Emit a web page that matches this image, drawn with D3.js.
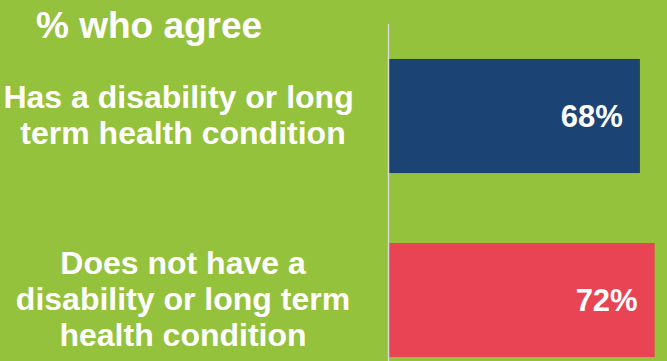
<!DOCTYPE html>
<html>
<head>
<meta charset="utf-8">
<script src="https://cdn.jsdelivr.net/npm/d3@7"></script>
<style>
  html, body { margin: 0; padding: 0; background: #95c23d; }
  svg { display: block; }
  text { font-family: "Liberation Sans", Arial, sans-serif; font-weight: bold; fill: #ffffff; white-space: pre; }
</style>
</head>
<body>
<svg id="chart" width="667" height="361"></svg>
<script>
// Survey result: share who agree, by disability status
const categories = [
  "Has a disability or long term health condition",
  "Does not have a disability or long term health condition"
];
const labelLines = [
  ["Has a disability or long ", "term health condition"],
  ["Does not have a", "disability or long term", "health condition"]
];
const values = [68, 72];
const colors = ["#1b4474", "#e94453"];
const title = "% who agree";

const svg = d3.select("#chart");
const W = 667, H = 361;

svg.append("rect").attr("width", W).attr("height", H).attr("fill", "#95c23d");

const x = d3.scaleLinear().domain([0, 100]).range([389, 758]);
const y = d3.scaleBand()
  .domain(categories)
  .range([24, 392])
  .paddingInner(0.38)
  .paddingOuter(0.19);

// bars
svg.selectAll("rect.bar")
  .data(categories)
  .join("rect")
  .attr("class", "bar")
  .attr("x", x(0))
  .attr("y", d => y(d))
  .attr("width", (d, i) => x(values[i]) - x(0))
  .attr("height", y.bandwidth())
  .attr("fill", (d, i) => colors[i]);

// value labels inside bar ends
svg.selectAll("text.val")
  .data(categories)
  .join("text")
  .attr("class", "val")
  .attr("x", (d, i) => x(values[i]) - 17)
  .attr("y", d => y(d) + y.bandwidth() / 2)
  .attr("dy", "0.36em")
  .attr("text-anchor", "end")
  .style("font-size", "31px")
  .text((d, i) => values[i] + "%");

// category axis line
svg.append("line")
  .attr("x1", 388.5).attr("x2", 388.5)
  .attr("y1", 24).attr("y2", H)
  .attr("stroke", "#d9d9d9")
  .attr("stroke-width", 1.5);

// category labels, wrapped and centred on each bar
const lh = 36;
svg.selectAll("text.cat")
  .data(categories)
  .join("text")
  .attr("class", "cat")
  .attr("text-anchor", "middle")
  .style("font-size", "32px")
  .each(function(d, i) {
    const lines = labelLines[i];
    const cy = y(d) + y.bandwidth() / 2;
    d3.select(this).selectAll("tspan")
      .data(lines)
      .join("tspan")
      .attr("x", 183)
      .attr("y", (l, j) => cy + (j - (lines.length - 1) / 2) * lh + 9.5)
      .text(l => l);
  });

// title
svg.append("text")
  .attr("x", 36)
  .attr("y", 37.5)
  .style("font-size", "37px")
  .text(title);
</script>
</body>
</html>
